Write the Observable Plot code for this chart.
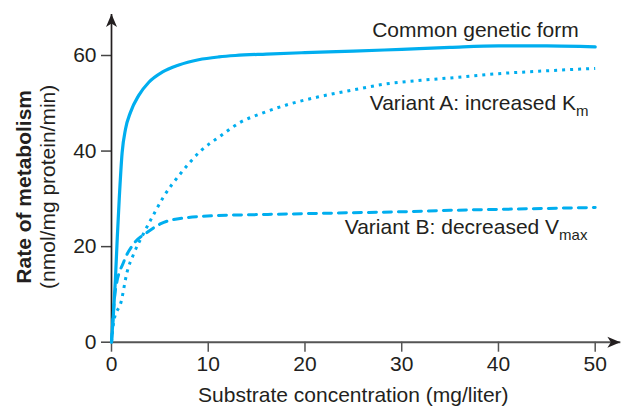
<!DOCTYPE html>
<html><head><meta charset="utf-8">
<script src="https://cdn.jsdelivr.net/npm/d3@7"></script>
<script src="https://cdn.jsdelivr.net/npm/@observablehq/plot@0.6"></script>
<style>html,body{margin:0;padding:0;background:#fff}svg{display:block}</style>
</head><body><div id="chart"></div>
<script>
// Common genetic form (solid)
const commonX = [0, 0.2, 0.4, 0.6, 0.8, 1.1, 1.45, 1.96, 2.8, 3.86, 5.24, 6.96, 9, 11.1, 12.8, 16, 20, 25, 30, 35, 40, 45, 50];
const commonY = [0, 6, 13, 22, 30, 39.7, 44.6, 48.1, 51.6, 54.4, 56.5, 58, 59.1, 59.7, 60, 60.3, 60.6, 60.9, 61.3, 61.7, 62, 62, 61.8];
// Variant A: increased Km (dotted)
const varAX = [0, 0.25, 1.0, 1.6, 2.3, 3.3, 4.4, 5.4, 7.1, 9.2, 11.3, 13.3, 15.4, 18, 21.3, 25, 28.2, 32, 35, 40, 45, 50];
const varAY = [0, 4.5, 8.5, 14.6, 18.5, 22.7, 26.9, 30.5, 35.2, 40, 43.2, 46, 47.8, 49.6, 51.3, 52.8, 54, 54.8, 55.3, 56.2, 56.8, 57.3];
// Variant B: decreased Vmax (dashed)
const varBX = [0, 0.4, 1.3, 2.3, 3.7, 5.1, 7.5, 10.9, 15, 20, 25, 30, 35, 40, 45, 50];
const varBY = [0, 10.8, 17, 20.6, 23, 24.8, 26, 26.5, 26.7, 26.9, 27.1, 27.3, 27.6, 27.8, 28, 28.2];

const xTicks = [0, 10, 20, 30, 40, 50];
const yTicks = [0, 20, 40, 60];
const xAxisEnd = 52.6;
const yAxisEnd = 68.7;

const labelTexts = ["Common genetic form", "Variant A: increased K", "Variant B: decreased V"];
const labelSubs = ["", "m", "max"];
const labelX = [48.3, 49.3, 49.2];
const labelY = [65.2, 49.9, 24];

const xTitle = "Substrate concentration (mg/liter)";
const yTitle1 = "Rate of metabolism";
const yTitle2 = "(nmol/mg protein/min)";

const toRows = (xs, ys) => xs.map((x, i) => ({x, y: ys[i]}));
const common = toRows(commonX, commonY);
const varA = toRows(varAX, varAY);
const varB = toRows(varBX, varBY);
const labels = labelTexts.map((t, i) => ({text: t, sub: labelSubs[i], x: labelX[i], y: labelY[i]}));
const axisLines = [
  {x1: 0, y1: 0, x2: xAxisEnd, y2: 0, c: "#555555", w: 2},
  {x1: 0, y1: 0, x2: 0, y2: yAxisEnd, c: "#231f20", w: 1.7}
];
const arrows = [{x: xAxisEnd, y: 0, r: 90}, {x: 0, y: yAxisEnd, r: 0}];

const cyan = "#00aeef";
const ink = "#231f20";
const arrowHead = {draw(ctx) { ctx.moveTo(0, 0); ctx.lineTo(-5.5, 13); ctx.lineTo(0, 9.5); ctx.lineTo(5.5, 13); ctx.closePath(); }};

const plot = Plot.plot({
  width: 622, height: 406,
  marginLeft: 111, marginRight: 27.3, marginTop: 55, marginBottom: 64.3,
  x: {domain: [0, 50]},
  y: {domain: [0, 60]},
  style: {fontFamily: "'Liberation Sans', Arial, sans-serif", fontSize: "21px", color: ink, background: "#fff", overflow: "visible"},
  marks: [
    Plot.axisX({ticks: xTicks, tickSize: 10, tickPadding: 4, tickFormat: d => String(d), label: null, stroke: "#555", strokeWidth: 1.5, fill: ink}),
    Plot.axisY({ticks: yTicks, tickSize: 10, tickPadding: 5, tickFormat: d => String(d), label: null, stroke: "#444", strokeWidth: 1.5, fill: ink}),
    Plot.link(axisLines, {x1: "x1", y1: "y1", x2: "x2", y2: "y2", stroke: d => d.c, strokeWidth: d => d.w}),
    Plot.dot(arrows, {x: "x", y: "y", rotate: "r", symbol: arrowHead, fill: ink, stroke: null}),
    Plot.line(varB, {x: "x", y: "y", stroke: cyan, strokeWidth: 3, strokeDasharray: "8,7", curve: "monotone-x"}),
    Plot.line(varA, {x: "x", y: "y", stroke: cyan, strokeWidth: 3, strokeDasharray: "3,5", strokeLinecap: "butt", curve: "monotone-x"}),
    Plot.line(common, {x: "x", y: "y", stroke: cyan, strokeWidth: 3.2, curve: "monotone-x"}),
    Plot.text(labels, {x: "x", y: "y", text: "text", textAnchor: "end", lineAnchor: "middle", fontSize: 21, fill: ink}),
    Plot.text([xTitle], {text: d => d, frameAnchor: "bottom", dy: 53, textAnchor: "middle", lineAnchor: "middle", fontSize: 21, fill: ink}),
    Plot.text([yTitle1], {text: d => d, frameAnchor: "left", rotate: -90, dx: -87, dy: -12, textAnchor: "middle", lineAnchor: "middle", fontWeight: "bold", fontSize: 21, fill: ink}),
    Plot.text([yTitle2], {text: d => d, frameAnchor: "left", rotate: -90, dx: -63, dy: -12, textAnchor: "middle", lineAnchor: "middle", fontSize: 21, fill: ink})
  ]
});

// Add subscripts as real text tspans
const subMap = new Map(labels.filter(d => d.sub).map(d => [d.text, d.sub]));
d3.select(plot).selectAll("text").each(function() {
  const s = subMap.get(this.textContent);
  if (s) d3.select(this).append("tspan").attr("dy", "0.4em").attr("font-size", 15).text(s);
});

document.getElementById("chart").appendChild(plot);
</script>
</body></html>
